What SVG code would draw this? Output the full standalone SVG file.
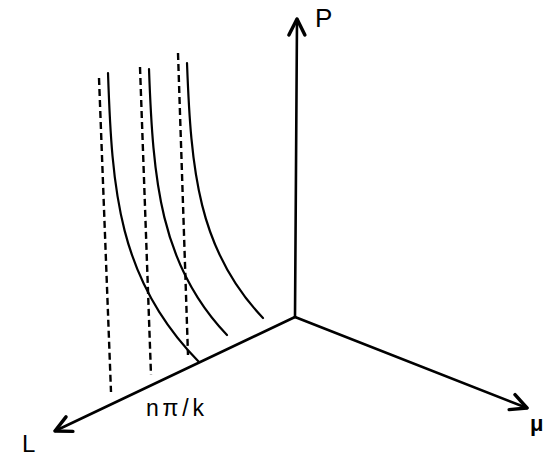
<svg xmlns="http://www.w3.org/2000/svg" width="545" height="458" viewBox="0 0 545 458">
<style>
.axis{fill:none;stroke:#000;stroke-width:2.6;stroke-linecap:round}
.curve{fill:none;stroke:#000;stroke-width:2.2;stroke-linecap:round}
.dash{fill:none;stroke:#000;stroke-width:2.4;stroke-dasharray:7 4}
.lbl{font-family:"Liberation Sans",Arial,sans-serif;fill:#000}
</style>
<defs>
<marker id="arr" markerUnits="userSpaceOnUse" markerWidth="24" markerHeight="24" viewBox="-14 -9 16 18" refX="0" refY="0" orient="auto">
<path d="M-12,-6 L0,0 L-12,6" fill="none" stroke="#000" stroke-width="2.6" stroke-linecap="round" stroke-linejoin="round"/>
</marker>
</defs>
<rect width="545" height="458" fill="#fff"/>
<g id="connectors">
<line class="axis" x1="295" y1="317" x2="297" y2="19" marker-end="url(#arr)"/>
<line class="axis" x1="295" y1="317" x2="527" y2="408" marker-end="url(#arr)"/>
<line class="axis" x1="295" y1="317" x2="55" y2="431" marker-end="url(#arr)"/>
</g>
<g id="dashed-lines">
<line class="dash" x1="99" y1="78" x2="111" y2="392"/>
<line class="dash" x1="140" y1="67" x2="151" y2="375"/>
<line class="dash" x1="178" y1="53" x2="188" y2="355"/>
</g>
<g id="curves">
<path class="curve" d="M108,73 C112,190 118,280 199,362"/>
<path class="curve" d="M149,69 C153,180 160,265 227,335"/>
<path class="curve" d="M187,63 C191,170 198,250 263,318"/>
</g>
<g id="labels">
<text class="lbl" x="315" y="27" font-size="26">P</text>
<text class="lbl" x="22" y="452" font-size="24">L</text>
<text class="lbl" x="530" y="431" font-size="22" font-weight="bold">μ</text>
<text class="lbl" x="146" y="416" font-size="23" textLength="58" lengthAdjust="spacing">nπ/k</text>
</g>
</svg>
